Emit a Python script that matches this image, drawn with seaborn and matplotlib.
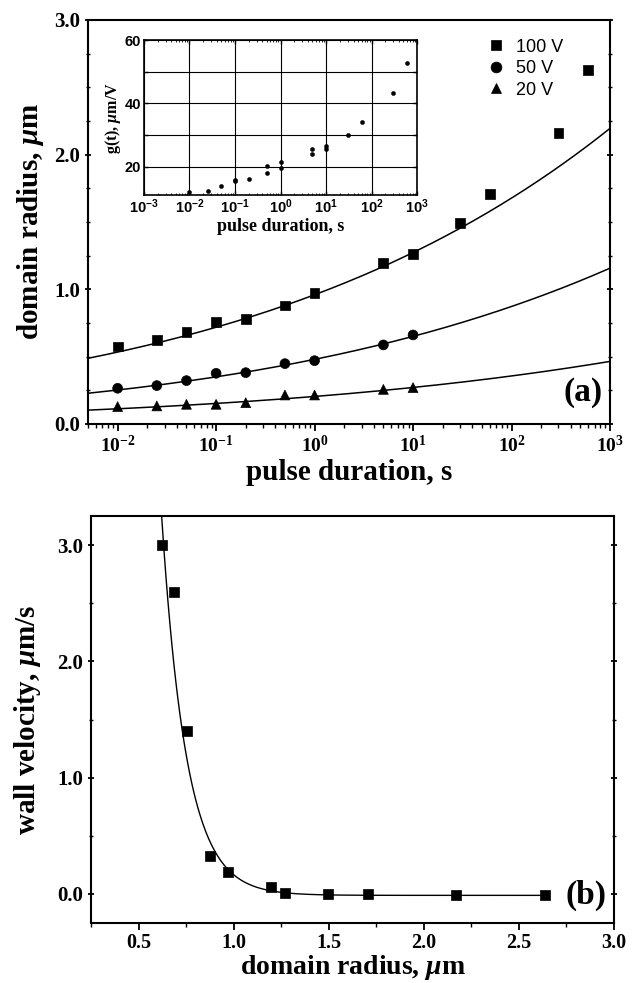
import numpy as np
import pandas as pd
import matplotlib
matplotlib.use("Agg")
import matplotlib.pyplot as plt
import seaborn as sns
from matplotlib.ticker import FixedLocator, MultipleLocator, LogLocator, NullFormatter, FixedFormatter

# ---------------- data ----------------
t_100 = [0.01, 0.025, 0.05, 0.1, 0.2, 0.5, 1, 5, 10, 30, 60, 300, 600]
r_100 = [0.575, 0.625, 0.685, 0.757, 0.78, 0.88, 0.97, 1.195, 1.265, 1.495, 1.705, 2.16, 2.63]
t_50 = [0.01, 0.025, 0.05, 0.1, 0.2, 0.5, 1, 5, 10]
r_50 = [0.265, 0.285, 0.322, 0.376, 0.381, 0.448, 0.47, 0.587, 0.661]
t_20 = [0.01, 0.025, 0.05, 0.1, 0.2, 0.5, 1, 5, 10]
r_20 = [0.129, 0.134, 0.146, 0.146, 0.158, 0.215, 0.215, 0.257, 0.27]
series_labels = ["100 V", "50 V", "20 V"]

# fit parameters: log10 r = a + b*log10 t + c*(log10 t)^2
fit_a = [-0.018, -0.319, -0.69]
fit_b = [0.1243, 0.1347, 0.125]
fit_c = [-0.0015, -0.00243, -0.002]

# inset g(t)
t_g = [0.01, 0.025, 0.05, 0.1, 0.1, 0.2, 0.5, 0.5, 1, 1, 5, 5, 10, 10, 30, 60, 300, 600]
g_t = [11.8, 12.4, 13.7, 15.3, 15.8, 16.0, 20.2, 17.9, 21.3, 19.5, 25.6, 24.0, 26.6, 25.4, 30.1, 34.2, 43.4, 52.6]

# panel b
r_b = [0.621, 0.685, 0.753, 0.876, 0.972, 1.199, 1.269, 1.498, 1.708, 2.167, 2.635]
v_b = [3.0, 2.60, 1.40, 0.33, 0.187, 0.058, 0.009, 0.0, -0.003, -0.006, -0.009]
# fit: v = y0 + A*exp(-(r - r0)/tau)
fitb_A, fitb_r0, fitb_tau, fitb_y0 = 3.01, 0.632, 0.13, -0.012

# ---------------- style ----------------
sns.set_theme(style="ticks")
plt.rcParams["font.family"] = ["Liberation Serif", "DejaVu Serif"]
plt.rcParams["font.weight"] = "bold"
plt.rcParams["mathtext.fontset"] = "custom"
plt.rcParams["mathtext.rm"] = "Liberation Serif:bold"
plt.rcParams["mathtext.bf"] = "Liberation Serif:bold"
plt.rcParams["mathtext.sf"] = "Liberation Sans:bold"
plt.rcParams["mathtext.it"] = "Liberation Serif:italic:bold"
plt.rcParams["mathtext.bfit"] = "Liberation Serif:italic:bold"
plt.rcParams["axes.linewidth"] = 1.5
for key in ["text.color", "axes.labelcolor", "xtick.color", "ytick.color", "axes.edgecolor"]:
    plt.rcParams[key] = "black"

fig = plt.figure(figsize=(6.34, 9.83), dpi=100)
ax1 = fig.add_axes([0.1388, 0.5687, 0.8233, 0.411])
ax2 = fig.add_axes([0.1435, 0.0610, 0.825, 0.414])
axin = fig.add_axes([0.227, 0.8016, 0.431, 0.1577])

# ---------- panel a ----------
df_a = pd.concat([
    pd.DataFrame({"t": t_100, "r": r_100, "s": series_labels[0]}),
    pd.DataFrame({"t": t_50, "r": r_50, "s": series_labels[1]}),
    pd.DataFrame({"t": t_20, "r": r_20, "s": series_labels[2]}),
])
sns.scatterplot(data=df_a, x="t", y="r", style="s", hue="s",
                markers={"100 V": "s", "50 V": "o", "20 V": "^"},
                palette={"100 V": "black", "50 V": "black", "20 V": "black"},
                s=50, edgecolor="black", linewidth=0.5, ax=ax1, zorder=3)

L = np.linspace(np.log10(0.005), 3, 300)
for a, b, c in zip(fit_a, fit_b, fit_c):
    fit_df = pd.DataFrame({"t": 10 ** L, "r": 10 ** (a + b * L + c * L ** 2)})
    sns.lineplot(data=fit_df, x="t", y="r", color="black", lw=1.1, ax=ax1, legend=False)

ax1.set_xscale("log")
ax1.set_xlim(0.005, 1000)
ax1.set_ylim(0, 3.0)
ax1.set_xticks([1e-2, 1e-1, 1e0, 1e1, 1e2, 1e3])
ax1.set_xticklabels([r"$\mathbf{10^{-2}}$", r"$\mathbf{10^{-1}}$", r"$\mathbf{10^{0}}$",
                     r"$\mathbf{10^{1}}$", r"$\mathbf{10^{2}}$", r"$\mathbf{10^{3}}$"], fontsize=14)
ax1.xaxis.set_minor_locator(LogLocator(base=10, subs=np.arange(2, 10), numticks=20))
ax1.xaxis.set_minor_formatter(NullFormatter())
ax1.set_yticks([0, 1, 2, 3])
ax1.set_yticklabels(["0.0", "1.0", "2.0", "3.0"], fontsize=15, fontweight="bold")
ax1.yaxis.set_minor_locator(MultipleLocator(0.25))
ax1.tick_params(axis="both", which="major", direction="out", length=5, width=1.3, pad=3)
ax1.tick_params(axis="both", which="minor", direction="out", length=3, width=1.0)
ax1.tick_params(axis="y", which="both", right=True, direction="inout")
ax1.set_xlabel("pulse duration, s", fontsize=21, fontweight="bold", labelpad=2)
ax1.set_ylabel(r"domain radius, $\mathbfit{\mu}$m", fontsize=21, fontweight="bold", labelpad=6)
ax1.text(0.985, 0.04, "(a)", transform=ax1.transAxes, ha="right", va="bottom",
         fontsize=24, fontweight="bold")

leg = ax1.legend(loc="upper left", bbox_to_anchor=(0.74, 0.985), frameon=False,
                 handletextpad=0.6, labelspacing=0.25, borderpad=0.2,
                 prop={"family": "Liberation Sans", "size": 13, "weight": "normal"},
                 markerscale=1.1, handlelength=1.0)
for h in leg.legend_handles:
    h.set_color("black")

# ---------- inset ----------
df_g = pd.DataFrame({"t": t_g, "g": g_t})
sns.scatterplot(data=df_g, x="t", y="g", color="black", s=9, edgecolor="black",
                linewidth=0.3, ax=axin, zorder=3)
axin.set_xscale("log")
axin.set_xlim(1e-3, 1e3)
axin.set_ylim(11, 60)
axin.set_xticks([1e-3, 1e-2, 1e-1, 1e0, 1e1, 1e2, 1e3])
axin.set_xticklabels([r"$\mathsf{10^{-3}}$", r"$\mathsf{10^{-2}}$", r"$\mathsf{10^{-1}}$",
                      r"$\mathsf{10^{0}}$", r"$\mathsf{10^{1}}$", r"$\mathsf{10^{2}}$",
                      r"$\mathsf{10^{3}}$"], fontsize=10.5)
axin.xaxis.set_minor_locator(LogLocator(base=10, subs=np.arange(2, 10), numticks=20))
axin.xaxis.set_minor_formatter(NullFormatter())
axin.yaxis.set_major_locator(FixedLocator([20, 30, 40, 50, 60]))
axin.yaxis.set_major_formatter(FixedFormatter(["20", "", "40", "", "60"]))
for lab in axin.get_yticklabels():
    lab.set_fontsize(10.5)
    lab.set_fontweight("bold")
    lab.set_family("Liberation Sans")
axin.grid(True, which="major", color="black", lw=0.8)
axin.tick_params(axis="both", which="major", direction="in", length=3, width=1.0, pad=2,
                 top=True, right=True)
axin.tick_params(axis="both", which="minor", direction="in", length=1.5, width=0.6,
                 top=True, right=True)
axin.set_xlabel("pulse duration, s", fontsize=13, fontweight="bold", labelpad=1)
axin.set_ylabel(r"g(t), $\mathbfit{\mu}$m/V", fontsize=11.5, fontweight="bold", labelpad=1)
for sp in axin.spines.values():
    sp.set_linewidth(1.2)

# ---------- panel b ----------
df_b = pd.DataFrame({"r": r_b, "v": v_b})
sns.scatterplot(data=df_b, x="r", y="v", marker="s", color="black", s=42,
                edgecolor="black", linewidth=0.5, ax=ax2, zorder=3)
rr = np.linspace(0.55, r_b[-1], 400)
fitb_df = pd.DataFrame({"r": rr, "v": fitb_y0 + fitb_A * np.exp(-(rr - fitb_r0) / fitb_tau)})
sns.lineplot(data=fitb_df, x="r", y="v", color="black", lw=1.0, ax=ax2, legend=False)
ax2.set_xlim(0.25, 3.0)
ax2.set_ylim(-0.25, 3.25)
ax2.set_xticks([0.5, 1.0, 1.5, 2.0, 2.5, 3.0])
ax2.set_xticklabels(["0.5", "1.0", "1.5", "2.0", "2.5", "3.0"], fontsize=14.5, fontweight="bold")
ax2.set_yticks([0, 1, 2, 3])
ax2.set_yticklabels(["0.0", "1.0", "2.0", "3.0"], fontsize=15, fontweight="bold")
ax2.xaxis.set_minor_locator(MultipleLocator(0.25))
ax2.yaxis.set_minor_locator(MultipleLocator(0.5))
ax2.tick_params(axis="both", which="major", direction="out", length=5, width=1.3, pad=3)
ax2.tick_params(axis="x", which="major", pad=2)
ax2.tick_params(axis="both", which="minor", direction="out", length=3, width=1.0)
ax2.tick_params(axis="y", which="both", right=True, direction="inout")
ax2.set_xlabel(r"domain radius, $\mathbfit{\mu}$m", fontsize=20, fontweight="bold", labelpad=0)
ax2.set_ylabel(r"wall velocity, $\mathbfit{\mu}$m/s", fontsize=21, fontweight="bold", labelpad=10)
ax2.text(0.985, 0.03, "(b)", transform=ax2.transAxes, ha="right", va="bottom",
         fontsize=24, fontweight="bold")

for ax in (ax1, ax2):
    for sp in ax.spines.values():
        sp.set_linewidth(1.5)
        sp.set_color("black")

fig.savefig("out.png", dpi=100, facecolor="white")
